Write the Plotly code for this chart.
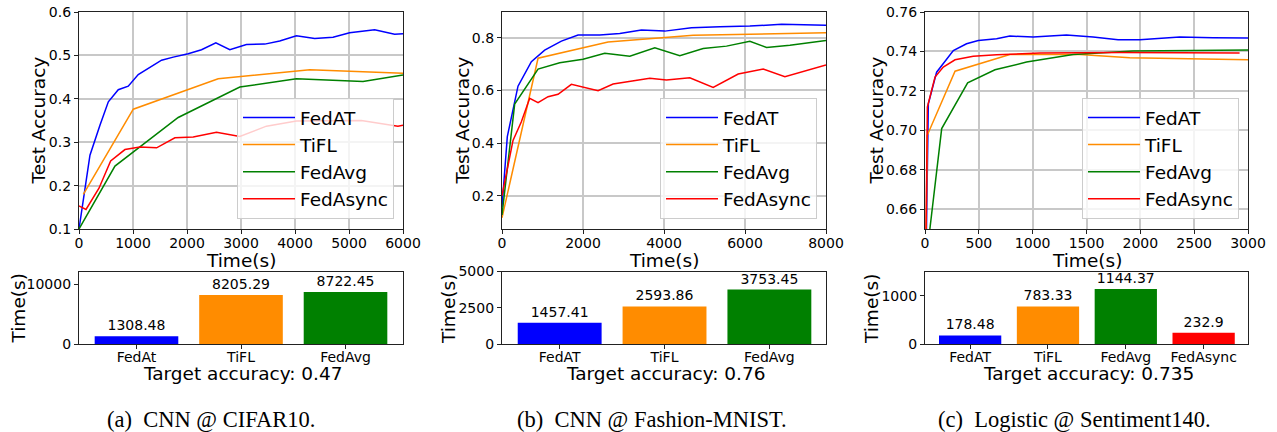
import plotly.graph_objects as go

W, H = 1277, 432
OFF = 0  # body margin removed by post_script below
FONT = "DejaVu Sans"

# ---------------- data ----------------
series_names = ["FedAT", "TiFL", "FedAvg", "FedAsync"]
line_colors = ["blue", "darkorange", "green", "red"]

# (a) CNN @ CIFAR10
a_fedat_t = [0, 203, 388, 543, 727, 912, 1097, 1313, 1529, 1745, 2022, 2269, 2534, 2793, 3101, 3440, 3717, 4026, 4365, 4704, 5012, 5475, 5845, 6000]
a_fedat_acc = [0.10, 0.270, 0.339, 0.393, 0.421, 0.429, 0.456, 0.473, 0.489, 0.496, 0.504, 0.513, 0.529, 0.513, 0.525, 0.526, 0.533, 0.545, 0.539, 0.542, 0.552, 0.559, 0.549, 0.550]
a_tifl_t = [80, 1005, 2577, 4273, 6000]
a_tifl_acc = [0.180, 0.376, 0.446, 0.467, 0.459]
a_fedavg_t = [0, 666, 1837, 2978, 4026, 5259, 6000]
a_fedavg_acc = [0.10, 0.245, 0.357, 0.427, 0.446, 0.440, 0.455]
a_fedasync_t = [0, 130, 370, 586, 851, 1128, 1437, 1776, 2115, 2546, 2978, 3471, 4026, 4704, 5228, 5906, 6000]
a_fedasync_acc = [0.153, 0.145, 0.194, 0.257, 0.283, 0.289, 0.287, 0.310, 0.312, 0.323, 0.313, 0.337, 0.349, 0.350, 0.350, 0.337, 0.339]

# (b) CNN @ Fashion-MNIST
b_fedat_t = [0, 131, 395, 725, 1054, 1466, 1878, 2413, 2908, 3443, 4020, 4679, 5379, 6120, 6903, 8000]
b_fedat_acc = [0.157, 0.424, 0.616, 0.709, 0.753, 0.787, 0.810, 0.810, 0.816, 0.829, 0.825, 0.838, 0.842, 0.844, 0.851, 0.847]
b_tifl_t = [0, 890, 2619, 4720, 8000]
b_tifl_acc = [0.116, 0.722, 0.784, 0.809, 0.819]
b_fedavg_t = [0, 313, 890, 1425, 2002, 2537, 3155, 3773, 4390, 4967, 5544, 6120, 6532, 7109, 8000]
b_fedavg_acc = [0.127, 0.548, 0.681, 0.705, 0.718, 0.741, 0.730, 0.762, 0.732, 0.759, 0.768, 0.786, 0.763, 0.771, 0.789]
b_fedasync_t = [0, 272, 478, 684, 890, 1137, 1384, 1713, 2372, 2743, 3649, 4061, 4637, 5214, 5832, 6450, 6985, 8000]
b_fedasync_acc = [0.200, 0.410, 0.481, 0.570, 0.553, 0.576, 0.585, 0.623, 0.599, 0.624, 0.646, 0.639, 0.648, 0.611, 0.662, 0.681, 0.652, 0.696]

# (c) Logistic @ Sentiment140
c_fedat_t = [0, 31, 108, 263, 386, 495, 665, 788, 1005, 1314, 1561, 1793, 1995, 2366, 2675, 3000]
c_fedat_acc = [0.600, 0.7135, 0.7295, 0.7405, 0.7439, 0.7456, 0.7464, 0.7478, 0.7473, 0.7483, 0.7473, 0.7459, 0.7459, 0.7473, 0.7469, 0.7468]
c_tifl_t = [0, 21, 279, 788, 1438, 1902, 3000]
c_tifl_acc = [0.600, 0.6975, 0.7300, 0.7385, 0.7385, 0.7368, 0.7358]
c_fedavg_t = [0, 155, 396, 650, 943, 1376, 1933, 3000]
c_fedavg_acc = [0.629, 0.7009, 0.7241, 0.7307, 0.7346, 0.7385, 0.7402, 0.7408]
c_fedasync_t = [0, 22, 93, 170, 279, 448, 665, 1067, 1809, 2304, 2922]
c_fedasync_acc = [0.600, 0.7118, 0.7270, 0.7321, 0.7358, 0.7376, 0.7383, 0.7392, 0.7395, 0.7392, 0.7392]

# tick values
a_xticks = [0, 1000, 2000, 3000, 4000, 5000, 6000]
a_yticks = [0.1, 0.2, 0.3, 0.4, 0.5, 0.6]
b_xticks = [0, 2000, 4000, 6000, 8000]
b_yticks = [0.2, 0.4, 0.6, 0.8]
c_xticks = [0, 500, 1000, 1500, 2000, 2500, 3000]
c_yticks = [0.66, 0.68, 0.70, 0.72, 0.74, 0.76]

# bar charts: time to reach target accuracy
a_bar_names = ["FedAt", "TiFL", "FedAvg"]
a_bar_time = [1308.48, 8205.29, 8722.45]
b_bar_names = ["FedAT", "TiFL", "FedAvg"]
b_bar_time = [1457.41, 2593.86, 3753.45]
c_bar_names = ["FedAT", "TiFL", "FedAvg", "FedAsync"]
c_bar_time = [178.48, 783.33, 1144.37, 232.9]
bar_colors = ["blue", "darkorange", "green", "red"]
a_bar_yticks = [0, 10000]
b_bar_yticks = [0, 2500, 5000]
c_bar_yticks = [0, 1000]

target_acc = ["0.47", "0.76", "0.735"]
captions = ["(a)\u00a0\u00a0CNN @ CIFAR10.", "(b)\u00a0\u00a0CNN @ Fashion-MNIST.", "(c)\u00a0\u00a0Logistic @ Sentiment140."]

# ---------------- layout helpers ----------------
def px_x(p):
    return (p - OFF) / W

def px_y(p):
    return 1 - (p - OFF) / H

line_dom_x = [(79, 403), (502, 826), (925, 1248)]
line_dom_y = [px_y(229), px_y(12)]
bar_dom_y = [px_y(344), px_y(271.5)]

fig = go.Figure()

panels = [
    [(a_fedat_t, a_fedat_acc), (a_tifl_t, a_tifl_acc), (a_fedavg_t, a_fedavg_acc), (a_fedasync_t, a_fedasync_acc)],
    [(b_fedat_t, b_fedat_acc), (b_tifl_t, b_tifl_acc), (b_fedavg_t, b_fedavg_acc), (b_fedasync_t, b_fedasync_acc)],
    [(c_fedat_t, c_fedat_acc), (c_tifl_t, c_tifl_acc), (c_fedavg_t, c_fedavg_acc), (c_fedasync_t, c_fedasync_acc)],
]
legend_ids = ["legend", "legend2", "legend3"]
for pi, panel in enumerate(panels):
    ax = "" if pi == 0 else str(pi + 1)
    for si, (t, acc) in enumerate(panel):
        fig.add_trace(go.Scatter(
            x=t, y=acc, mode="lines", name=series_names[si],
            line=dict(color=line_colors[si], width=1.5),
            xaxis="x" + ax, yaxis="y" + ax,
            legend=legend_ids[pi], legendgroup=f"p{pi}s{si}",
            hoverinfo="skip",
        ))

bars = [(a_bar_names, a_bar_time), (b_bar_names, b_bar_time), (c_bar_names, c_bar_time)]
for bi, (names, vals) in enumerate(bars):
    ax = str(bi + 4)
    fig.add_trace(go.Bar(
        x=names, y=vals, marker=dict(color=bar_colors[:len(names)], line=dict(width=0)),
        text=[str(v) for v in vals], textposition="outside", cliponaxis=False,
        constraintext="none",
        textfont=dict(size=14, color="black", family=FONT),
        xaxis="x" + ax, yaxis="y" + ax, showlegend=False, hoverinfo="skip",
    ))

axis_common = dict(
    showline=True, mirror=True, linecolor="#222222", linewidth=1.2,
    ticks="outside", ticklen=4, tickwidth=1, tickcolor="#222222",
    tickfont=dict(size=14, color="black", family=FONT), zeroline=False,
    automargin=False, ticklabeloverflow="allow",
)
grid = dict(showgrid=True, gridcolor="#c8c8c8", gridwidth=1.6)

line_xr = [[0, 6000], [0, 8000], [0, 3000]]
line_xt = [a_xticks, b_xticks, c_xticks]
line_yr = [[0.1, 0.6], [0.0735, 0.8976], [0.65, 0.76]]
line_yt = [a_yticks, b_yticks, c_yticks]
line_yf = [".1f", ".1f", ".2f"]

layout = dict(
    width=W, height=H, autosize=False,
    margin=dict(l=0, r=0, t=0, b=0, pad=0, autoexpand=False),
    paper_bgcolor="white", plot_bgcolor="white",
    font=dict(family=FONT, color="black"),
    bargap=0.2,
)
for pi in range(3):
    ax = "" if pi == 0 else str(pi + 1)
    x0, x1 = line_dom_x[pi]
    yr = line_yr[pi]
    layout["xaxis" + ax] = dict(domain=[px_x(x0), px_x(x1)], range=line_xr[pi], tickvals=line_xt[pi],
                                anchor="y" + ax, ticklabelstandoff=-3, **axis_common, **grid)
    layout["yaxis" + ax] = dict(domain=line_dom_y, range=[yr[0] - 1e-6, yr[1] + 1e-6], tickvals=line_yt[pi],
                                tickformat=line_yf[pi], anchor="x" + ax, **axis_common, **grid)

bar_yr = [[0, 12170], [0, 5000.01], [0, 1510]]
bar_yt = [a_bar_yticks, b_bar_yticks, c_bar_yticks]
bar_xr = [[-0.55, 2.55], [-0.55, 2.54], [-0.58, 3.57]]
for bi in range(3):
    ax = str(bi + 4)
    x0, x1 = line_dom_x[bi]
    layout["xaxis" + ax] = dict(domain=[px_x(x0), px_x(x1)], range=bar_xr[bi], type="category",
                                anchor="y" + ax, showgrid=False, ticklabelstandoff=-4, **axis_common)
    layout["yaxis" + ax] = dict(domain=bar_dom_y, range=bar_yr[bi], tickvals=bar_yt[bi], tickformat="d",
                                anchor="x" + ax, showgrid=False, **axis_common)

legend_right = [394, 817, 1239]
for pi in range(3):
    layout[legend_ids[pi]] = dict(
        x=px_x(legend_right[pi]), y=px_y(219), xanchor="right", yanchor="bottom",
        xref="paper", yref="paper",
        bgcolor="rgba(255,255,255,0.8)", bordercolor="#cccccc", borderwidth=1,
        font=dict(size=18.5, family=FONT, color="black"),
        itemwidth=52, tracegroupgap=4, traceorder="normal",
    )

annotations = []
def ann(text, x, y, size, angle=0, family=FONT):
    annotations.append(dict(text=text, x=px_x(x), y=px_y(y), xref="paper", yref="paper",
                            xanchor="center", yanchor="middle", showarrow=False, textangle=angle,
                            font=dict(size=size, family=family, color="black")))

ylab_line_x = [38, 462, 876]
ylab_bar_x = [17.5, 448, 871]
cap_x = [211, 652, 1074]
for pi in range(3):
    x0, x1 = line_dom_x[pi]
    cx = (x0 + x1) / 2
    ann("Time(s)", cx, 260, 18.5)
    ann("Test Accuracy", ylab_line_x[pi], 120.5, 18.5, angle=-90)
    ann("Time(s)", ylab_bar_x[pi], 309, 18.5, angle=-90)
    ann("Target accuracy: " + target_acc[pi], cx + 2, 373, 18.5)
    ann(captions[pi], cap_x[pi], 419.5, 22.5, family="Liberation Serif")

layout["annotations"] = annotations
fig.update_layout(**layout)

fig.write_html("out.html", config={"displayModeBar": False},
               post_script="document.body.style.margin='0px';")
